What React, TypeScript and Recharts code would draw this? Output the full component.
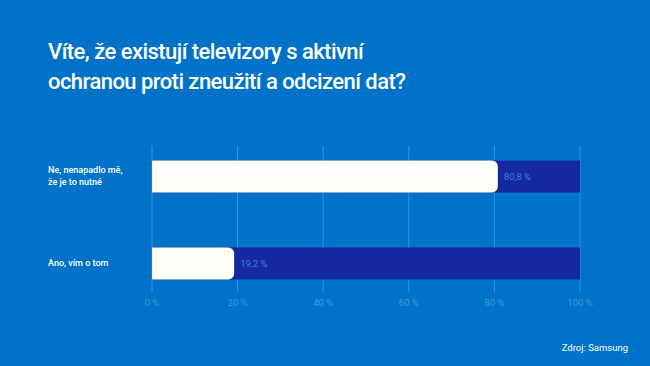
import { Bar, BarChart, CartesianGrid, LabelList, XAxis, YAxis } from "recharts"

// survey answers and shares (percent)
const categories = ["Ne, nenapadlo mě,\nže je to nutné", "Ano, vím o tom"]
const shares = [80.8, 19.2]
const totals = [100, 100]
const xTicks = [0, 20, 40, 60, 80, 100]

const data = categories.map((name, i) => ({ name, share: shares[i], total: totals[i] }))

const BG = "#0073C8"
const NAVY = "#1428A0"
const GRID = "#3A93DC"
const FONT = "Roboto, 'Noto Sans', sans-serif"

const fmt = (v: number) => `${v.toString().replace(".", ",")} %`

function CategoryTick(props: any) {
  const { y, payload } = props
  const lines = String(payload.value).split("\n")
  const lh = 12
  const start = y - ((lines.length - 1) * lh) / 2
  return (
    <text x={48} y={start} fill="#ffffff" fontSize={9} fontWeight={500} fontFamily={FONT} dominantBaseline="central">
      {lines.map((l, i) => (
        <tspan key={i} x={48} y={start + i * lh} dominantBaseline="central">
          {l}
        </tspan>
      ))}
    </text>
  )
}

export default function App() {
  return (
    <div style={{ position: "absolute", left: 0, top: 0, width: 650, height: 366, background: BG, fontFamily: FONT, overflow: "hidden" }}>
      <div
        style={{
          position: "absolute",
          left: 48,
          top: 37,
          color: "#ffffff",
          fontSize: 22,
          fontWeight: 500,
          lineHeight: "30px",
          letterSpacing: -0.55,
        }}
      >
        Víte, že existují televizory s aktivní
        <br />
        ochranou proti zneužití a odcizení dat?
      </div>
      <BarChart
        width={650}
        height={366}
        data={data}
        layout="vertical"
        margin={{ top: 146, right: 70, bottom: 51, left: 0 }}
        barGap={-32}
        barSize={32}
      >
        <CartesianGrid horizontal={false} stroke={GRID} strokeWidth={1} />
        <XAxis
          type="number"
          domain={[0, 100]}
          ticks={xTicks}
          tickFormatter={(v) => `${v} %`}
          axisLine={false}
          tickLine={{ stroke: GRID }}
          tickSize={7}
          tickMargin={7}
          height={30}
          tick={{ fill: "#4398E0", fontSize: 9.5, fontFamily: FONT }}
        />
        <YAxis
          type="category"
          dataKey="name"
          width={152}
          axisLine={false}
          tickLine={false}
          padding={{ top: -13.5, bottom: -21.5 } as any}
          tick={<CategoryTick />}
        />
        <Bar dataKey="total" fill={NAVY} isAnimationActive={false} />
        <Bar dataKey="share" fill="#FFFEF8" radius={[0, 6, 6, 0]} isAnimationActive={false}>
          <LabelList
            dataKey="share"
            position="right"
            offset={6}
            formatter={(v: any) => fmt(Number(v))}
            fill="#4A7AE0"
            fontSize={9.5}
            fontFamily={FONT}
          />
        </Bar>
      </BarChart>
      <div style={{ position: "absolute", right: 22, top: 342, color: "#ffffff", fontSize: 9.5 }}>
        Zdroj: Samsung
      </div>
    </div>
  )
}
